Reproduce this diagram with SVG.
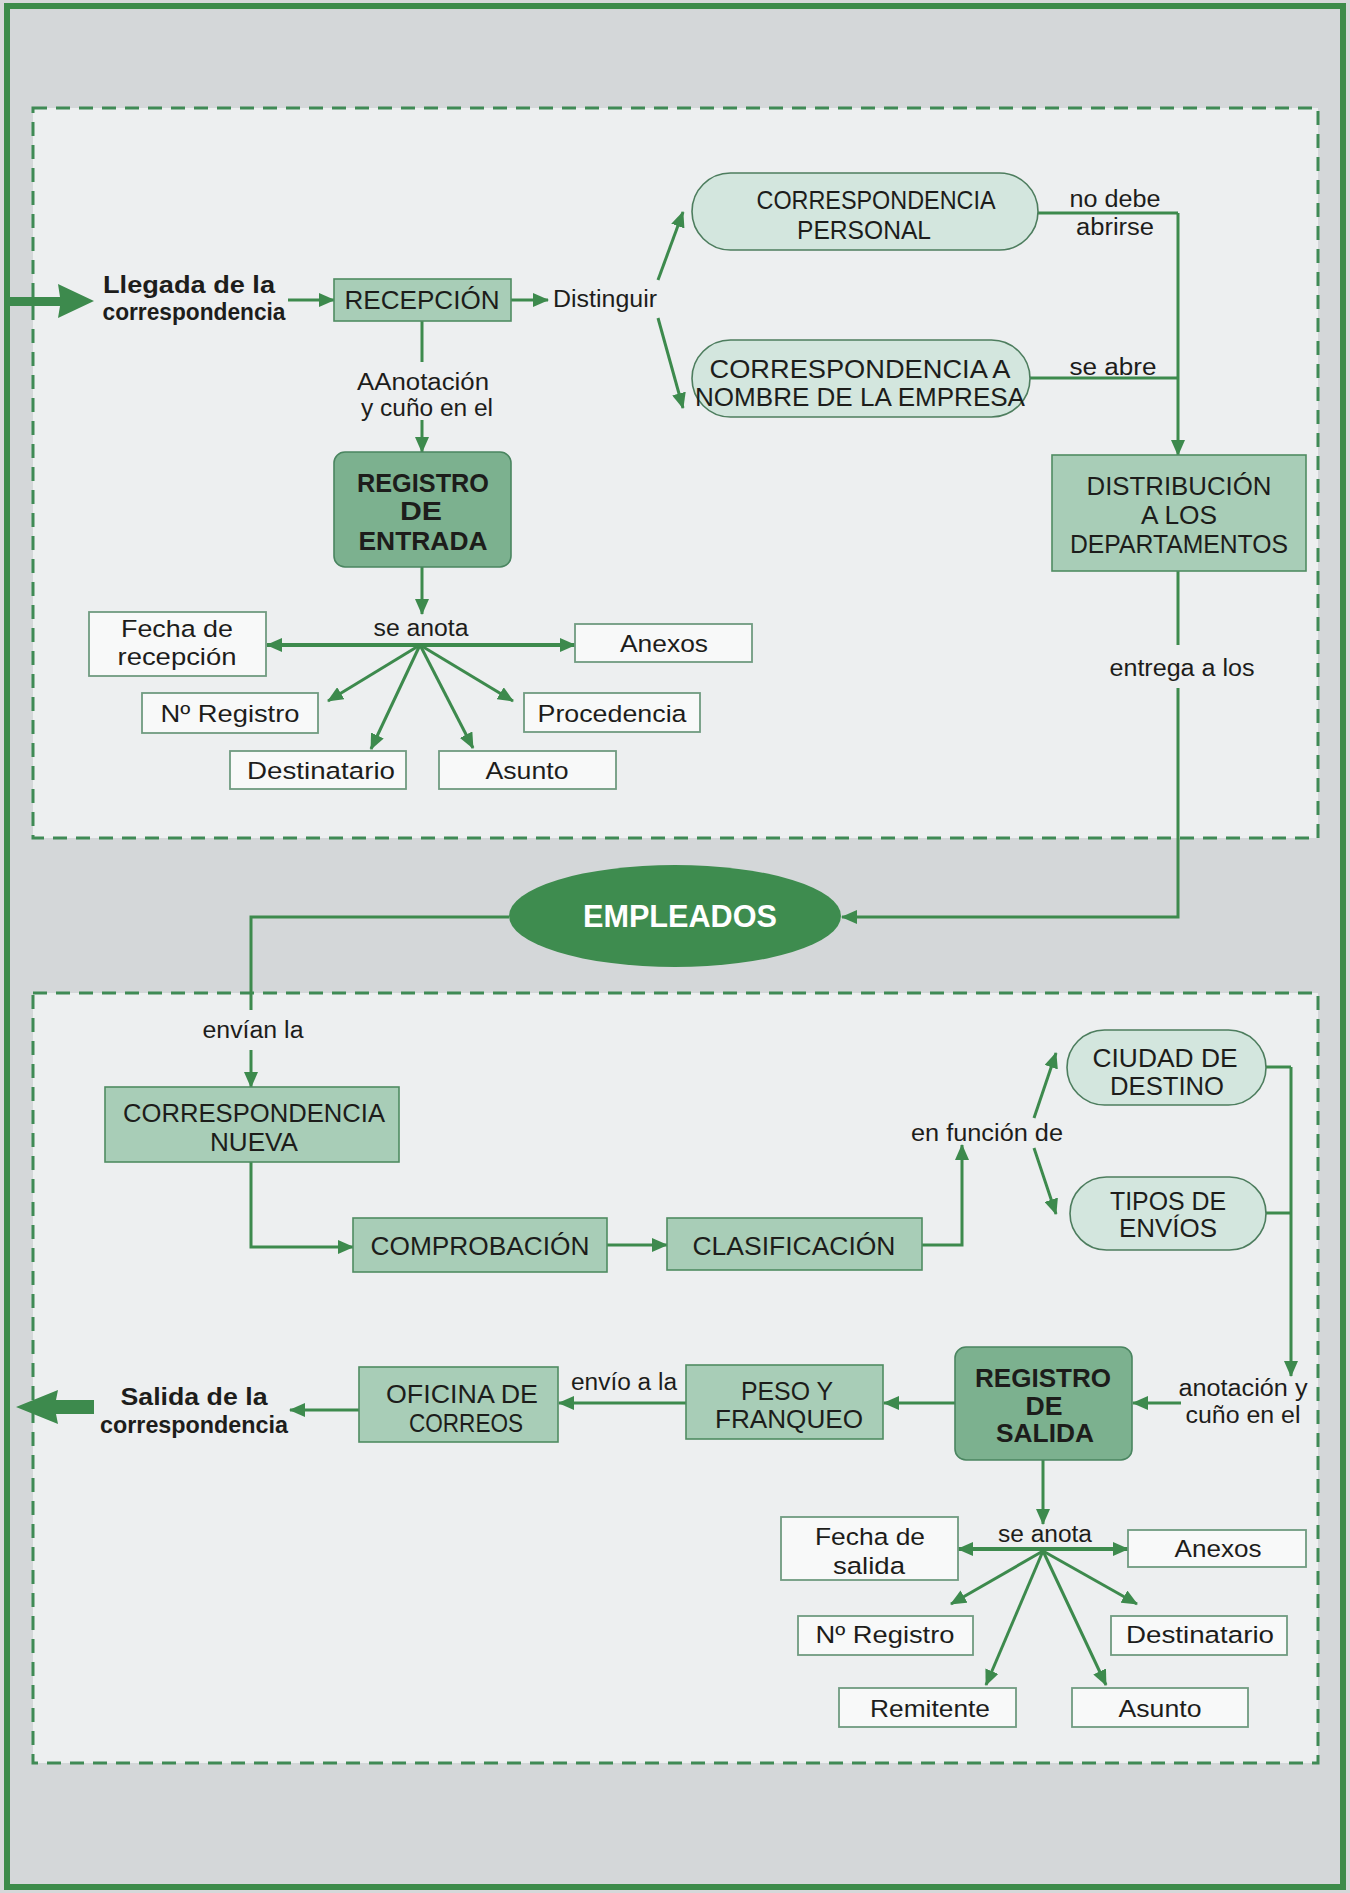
<svg xmlns="http://www.w3.org/2000/svg" width="1350" height="1893" viewBox="0 0 1350 1893">
  <style>
    text { font-family: "Liberation Sans", Arial, sans-serif; fill: #1d1d1b; text-anchor: middle; }
    .lbl { font-size: 23.5px; }
    .box { font-size: 26px; }
    .item { font-size: 24.5px; }
    .bold { font-weight: bold; }
    .big { font-size: 31px; font-weight: bold; fill: #ffffff; }
    .conn { fill: none; stroke: #3d8a4d; stroke-width: 3; }
    .thick { stroke-width: 4; }
    .r-light { fill: #a8cdb7; stroke: #4f8c62; stroke-width: 1.6; }
    .r-dark { fill: #7cb18f; stroke: #4a8560; stroke-width: 1.6; }
    .r-pill { fill: #d3e6de; stroke: #4d7d5e; stroke-width: 1.6; }
    .r-white { fill: #f8f9f9; stroke: #6f9b80; stroke-width: 1.8; }
    .dash { fill: #edeff0; stroke: #3f8a55; stroke-width: 3; stroke-dasharray: 14 9; }
  </style>
  <defs>
    <marker id="arr" viewBox="0 0 16 14" refX="15" refY="7" markerWidth="16" markerHeight="14" markerUnits="userSpaceOnUse" orient="auto-start-reverse">
      <path d="M0,0 L16,7 L0,14 Z" fill="#3d8a4d"/>
    </marker>
  </defs>

  <!-- page background and frame -->
  <rect x="0" y="0" width="1350" height="1893" fill="#d6d8da"/>
  <rect x="7" y="6" width="1336" height="1881" fill="#d4d7d9" stroke="#3c8b4a" stroke-width="6"/>

  <!-- dashed panels -->
  <rect class="dash" x="33" y="108" width="1285" height="730"/>
  <rect class="dash" x="33" y="993" width="1285" height="770"/>

  <!-- connectors -->
  <g id="connectors">
    <!-- incoming big arrow -->
    <polygon points="7,297 60,297 58,284 94,301 58,318 60,306 7,306" fill="#3d8a4d"/>
    <line class="conn" x1="288" y1="300" x2="334" y2="300" marker-end="url(#arr)"/>
    <line class="conn" x1="511" y1="300" x2="548" y2="300" marker-end="url(#arr)"/>
    <line class="conn" x1="658" y1="280" x2="683" y2="212" marker-end="url(#arr)"/>
    <line class="conn" x1="658" y1="318" x2="683" y2="408" marker-end="url(#arr)"/>
    <polyline class="conn" points="1038,213 1178,213"/>
    <polyline class="conn" points="1030,378 1178,378"/>
    <line class="conn" x1="1178" y1="213" x2="1178" y2="455" marker-end="url(#arr)"/>
    <line class="conn" x1="1178" y1="571" x2="1178" y2="645"/>
    <polyline class="conn" points="1178,688 1178,917 842,917" marker-end="url(#arr)"/>

    <!-- entrada chain -->
    <line class="conn" x1="422" y1="321" x2="422" y2="362"/>
    <line class="conn" x1="422" y1="420" x2="422" y2="452" marker-end="url(#arr)"/>
    <line class="conn" x1="422" y1="567" x2="422" y2="614" marker-end="url(#arr)"/>
    <line class="conn thick" x1="420" y1="645" x2="267" y2="645" marker-end="url(#arr)"/>
    <line class="conn thick" x1="420" y1="645" x2="575" y2="645" marker-end="url(#arr)"/>
    <line class="conn" x1="420" y1="645" x2="328" y2="701" marker-end="url(#arr)"/>
    <line class="conn" x1="420" y1="645" x2="371" y2="749" marker-end="url(#arr)"/>
    <line class="conn" x1="420" y1="645" x2="473" y2="748" marker-end="url(#arr)"/>
    <line class="conn" x1="420" y1="645" x2="513" y2="701" marker-end="url(#arr)"/>

    <!-- salida chain -->
    <polyline class="conn" points="509,917 251,917 251,1010"/>
    <line class="conn" x1="251" y1="1050" x2="251" y2="1087" marker-end="url(#arr)"/>
    <polyline class="conn" points="251,1162 251,1247 353,1247" marker-end="url(#arr)"/>
    <line class="conn" x1="607" y1="1245" x2="667" y2="1245" marker-end="url(#arr)"/>
    <polyline class="conn" points="922,1245 962,1245 962,1145" marker-end="url(#arr)"/>
    <line class="conn" x1="1034" y1="1118" x2="1056" y2="1053" marker-end="url(#arr)"/>
    <line class="conn" x1="1034" y1="1148" x2="1056" y2="1214" marker-end="url(#arr)"/>
    <polyline class="conn" points="1266,1067 1291,1067"/>
    <polyline class="conn" points="1266,1213 1291,1213"/>
    <line class="conn" x1="1291" y1="1067" x2="1291" y2="1376" marker-end="url(#arr)"/>
    <line class="conn" x1="1181" y1="1403" x2="1133" y2="1403" marker-end="url(#arr)"/>
    <line class="conn" x1="955" y1="1403" x2="884" y2="1403" marker-end="url(#arr)"/>
    <line class="conn" x1="686" y1="1403" x2="559" y2="1403" marker-end="url(#arr)"/>
    <line class="conn" x1="359" y1="1410" x2="290" y2="1410" marker-end="url(#arr)"/>
    <!-- outgoing big arrow -->
    <polygon points="94,1400 56,1400 58,1390 16,1407 58,1424 56,1414 94,1414" fill="#3d8a4d"/>
    <line class="conn" x1="1043" y1="1460" x2="1043" y2="1524" marker-end="url(#arr)"/>
    <line class="conn thick" x1="1043" y1="1549" x2="958" y2="1549" marker-end="url(#arr)"/>
    <line class="conn thick" x1="1043" y1="1549" x2="1128" y2="1549" marker-end="url(#arr)"/>
    <line class="conn" x1="1043" y1="1551" x2="951" y2="1604" marker-end="url(#arr)"/>
    <line class="conn" x1="1043" y1="1551" x2="986" y2="1685" marker-end="url(#arr)"/>
    <line class="conn" x1="1043" y1="1551" x2="1106" y2="1685" marker-end="url(#arr)"/>
    <line class="conn" x1="1043" y1="1551" x2="1137" y2="1604" marker-end="url(#arr)"/>
  </g>

  <!-- edge labels -->
  <g id="labels">
    <text class="lbl bold" x="189" y="293" textLength="172" lengthAdjust="spacingAndGlyphs">Llegada de la</text>
    <text class="lbl bold" x="194" y="320" textLength="183" lengthAdjust="spacingAndGlyphs">correspondencia</text>
    <text class="lbl" x="605" y="307" textLength="104" lengthAdjust="spacingAndGlyphs">Distinguir</text>
    <text class="lbl" x="423" y="390" textLength="132" lengthAdjust="spacingAndGlyphs">AAnotación</text>
    <text class="lbl" x="427" y="416" textLength="132" lengthAdjust="spacingAndGlyphs">y cuño en el</text>
    <text class="lbl" x="1115" y="207" textLength="91" lengthAdjust="spacingAndGlyphs">no debe</text>
    <text class="lbl" x="1115" y="235" textLength="78" lengthAdjust="spacingAndGlyphs">abrirse</text>
    <text class="lbl" x="1113" y="375" textLength="87" lengthAdjust="spacingAndGlyphs">se abre</text>
    <text class="lbl" x="1182" y="676" textLength="145" lengthAdjust="spacingAndGlyphs">entrega a los</text>
    <text class="lbl" x="421" y="636" textLength="95" lengthAdjust="spacingAndGlyphs">se anota</text>
    <text class="lbl" x="253" y="1038" textLength="101" lengthAdjust="spacingAndGlyphs">envían la</text>
    <text class="lbl" x="987" y="1141" textLength="152" lengthAdjust="spacingAndGlyphs">en función de</text>
    <text class="lbl" x="1243" y="1396" textLength="129" lengthAdjust="spacingAndGlyphs">anotación y</text>
    <text class="lbl" x="1243" y="1423" textLength="115" lengthAdjust="spacingAndGlyphs">cuño en el</text>
    <text class="lbl" x="624" y="1390" textLength="106" lengthAdjust="spacingAndGlyphs">envío a la</text>
    <text class="lbl bold" x="194" y="1405" textLength="147" lengthAdjust="spacingAndGlyphs">Salida de la</text>
    <text class="lbl bold" x="194" y="1433" textLength="188" lengthAdjust="spacingAndGlyphs">correspondencia</text>
    <text class="lbl" x="1045" y="1542" textLength="94" lengthAdjust="spacingAndGlyphs">se anota</text>
  </g>

  <!-- nodes -->
  <g id="n-recepcion">
    <rect class="r-light" x="334" y="279" width="177" height="42"/>
    <text class="box" x="422" y="309" textLength="155" lengthAdjust="spacingAndGlyphs">RECEPCIÓN</text>
  </g>
  <g id="n-personal">
    <rect class="r-pill" x="692" y="173" width="346" height="77" rx="38.5"/>
    <text class="box" x="876" y="209" textLength="239" lengthAdjust="spacingAndGlyphs">CORRESPONDENCIA</text>
    <text class="box" x="864" y="239" textLength="134" lengthAdjust="spacingAndGlyphs">PERSONAL</text>
  </g>
  <g id="n-empresa">
    <rect class="r-pill" x="692" y="340" width="338" height="77" rx="38.5"/>
    <text class="box" x="860" y="378" textLength="301" lengthAdjust="spacingAndGlyphs">CORRESPONDENCIA A</text>
    <text class="box" x="860" y="406" textLength="330" lengthAdjust="spacingAndGlyphs">NOMBRE DE LA EMPRESA</text>
  </g>
  <g id="n-distribucion">
    <rect class="r-light" x="1052" y="455" width="254" height="116"/>
    <text class="box" x="1179" y="495" textLength="185" lengthAdjust="spacingAndGlyphs">DISTRIBUCIÓN</text>
    <text class="box" x="1179" y="524" textLength="76" lengthAdjust="spacingAndGlyphs">A LOS</text>
    <text class="box" x="1179" y="553" textLength="218" lengthAdjust="spacingAndGlyphs">DEPARTAMENTOS</text>
  </g>
  <g id="n-registro-entrada">
    <rect class="r-dark" x="334" y="452" width="177" height="115" rx="11"/>
    <text class="box bold" x="423" y="492" textLength="132" lengthAdjust="spacingAndGlyphs">REGISTRO</text>
    <text class="box bold" x="421" y="520" textLength="42" lengthAdjust="spacingAndGlyphs">DE</text>
    <text class="box bold" x="423" y="550" textLength="129" lengthAdjust="spacingAndGlyphs">ENTRADA</text>
  </g>
  <g id="n-fecha-recepcion">
    <rect class="r-white" x="89" y="612" width="177" height="64"/>
    <text class="item" x="177" y="637" textLength="112" lengthAdjust="spacingAndGlyphs">Fecha de</text>
    <text class="item" x="177" y="665" textLength="119" lengthAdjust="spacingAndGlyphs">recepción</text>
  </g>
  <g id="n-anexos-entrada">
    <rect class="r-white" x="575" y="624" width="177" height="38"/>
    <text class="item" x="664" y="652" textLength="88" lengthAdjust="spacingAndGlyphs">Anexos</text>
  </g>
  <g id="n-registro-entrada-num">
    <rect class="r-white" x="142" y="693" width="176" height="40"/>
    <text class="item" x="230" y="722" textLength="139" lengthAdjust="spacingAndGlyphs">Nº Registro</text>
  </g>
  <g id="n-procedencia">
    <rect class="r-white" x="524" y="693" width="176" height="39"/>
    <text class="item" x="612" y="722" textLength="149" lengthAdjust="spacingAndGlyphs">Procedencia</text>
  </g>
  <g id="n-destinatario-entrada">
    <rect class="r-white" x="230" y="751" width="176" height="38"/>
    <text class="item" x="321" y="779" textLength="148" lengthAdjust="spacingAndGlyphs">Destinatario</text>
  </g>
  <g id="n-asunto-entrada">
    <rect class="r-white" x="439" y="751" width="177" height="38"/>
    <text class="item" x="527" y="779" textLength="83" lengthAdjust="spacingAndGlyphs">Asunto</text>
  </g>
  <g id="n-empleados">
    <ellipse cx="675" cy="916" rx="166" ry="51" fill="#3e8c4f"/>
    <text class="big" x="680" y="927" textLength="194" lengthAdjust="spacingAndGlyphs">EMPLEADOS</text>
  </g>
  <g id="n-nueva">
    <rect class="r-light" x="105" y="1087" width="294" height="75"/>
    <text class="box" x="254" y="1122" textLength="262" lengthAdjust="spacingAndGlyphs">CORRESPONDENCIA</text>
    <text class="box" x="254" y="1151" textLength="88" lengthAdjust="spacingAndGlyphs">NUEVA</text>
  </g>
  <g id="n-comprobacion">
    <rect class="r-light" x="353" y="1218" width="254" height="54"/>
    <text class="box" x="480" y="1255" textLength="219" lengthAdjust="spacingAndGlyphs">COMPROBACIÓN</text>
  </g>
  <g id="n-clasificacion">
    <rect class="r-light" x="667" y="1218" width="255" height="52"/>
    <text class="box" x="794" y="1255" textLength="203" lengthAdjust="spacingAndGlyphs">CLASIFICACIÓN</text>
  </g>
  <g id="n-ciudad">
    <rect class="r-pill" x="1067" y="1030" width="199" height="75" rx="37.5"/>
    <text class="box" x="1165" y="1067" textLength="145" lengthAdjust="spacingAndGlyphs">CIUDAD DE</text>
    <text class="box" x="1167" y="1095" textLength="114" lengthAdjust="spacingAndGlyphs">DESTINO</text>
  </g>
  <g id="n-tipos">
    <rect class="r-pill" x="1070" y="1177" width="196" height="73" rx="36.5"/>
    <text class="box" x="1168" y="1210" textLength="116" lengthAdjust="spacingAndGlyphs">TIPOS DE</text>
    <text class="box" x="1168" y="1237" textLength="98" lengthAdjust="spacingAndGlyphs">ENVÍOS</text>
  </g>
  <g id="n-registro-salida">
    <rect class="r-dark" x="955" y="1347" width="177" height="113" rx="11"/>
    <text class="box bold" x="1043" y="1387" textLength="136" lengthAdjust="spacingAndGlyphs">REGISTRO</text>
    <text class="box bold" x="1044" y="1415" textLength="37" lengthAdjust="spacingAndGlyphs">DE</text>
    <text class="box bold" x="1045" y="1442" textLength="98" lengthAdjust="spacingAndGlyphs">SALIDA</text>
  </g>
  <g id="n-peso">
    <rect class="r-light" x="686" y="1365" width="197" height="74"/>
    <text class="box" x="787" y="1400" textLength="92" lengthAdjust="spacingAndGlyphs">PESO Y</text>
    <text class="box" x="789" y="1428" textLength="148" lengthAdjust="spacingAndGlyphs">FRANQUEO</text>
  </g>
  <g id="n-oficina">
    <rect class="r-light" x="359" y="1367" width="199" height="75"/>
    <text class="box" x="462" y="1403" textLength="152" lengthAdjust="spacingAndGlyphs">OFICINA DE</text>
    <text class="box" x="466" y="1432" textLength="114" lengthAdjust="spacingAndGlyphs">CORREOS</text>
  </g>
  <g id="n-fecha-salida">
    <rect class="r-white" x="781" y="1517" width="177" height="63"/>
    <text class="item" x="870" y="1545" textLength="110" lengthAdjust="spacingAndGlyphs">Fecha de</text>
    <text class="item" x="869" y="1574" textLength="72" lengthAdjust="spacingAndGlyphs">salida</text>
  </g>
  <g id="n-anexos-salida">
    <rect class="r-white" x="1128" y="1530" width="178" height="37"/>
    <text class="item" x="1218" y="1557" textLength="87" lengthAdjust="spacingAndGlyphs">Anexos</text>
  </g>
  <g id="n-registro-salida-num">
    <rect class="r-white" x="798" y="1616" width="175" height="39"/>
    <text class="item" x="885" y="1643" textLength="139" lengthAdjust="spacingAndGlyphs">Nº Registro</text>
  </g>
  <g id="n-destinatario-salida">
    <rect class="r-white" x="1111" y="1616" width="176" height="39"/>
    <text class="item" x="1200" y="1643" textLength="148" lengthAdjust="spacingAndGlyphs">Destinatario</text>
  </g>
  <g id="n-remitente">
    <rect class="r-white" x="839" y="1688" width="177" height="39"/>
    <text class="item" x="930" y="1717" textLength="120" lengthAdjust="spacingAndGlyphs">Remitente</text>
  </g>
  <g id="n-asunto-salida">
    <rect class="r-white" x="1072" y="1688" width="176" height="39"/>
    <text class="item" x="1160" y="1717" textLength="83" lengthAdjust="spacingAndGlyphs">Asunto</text>
  </g>
</svg>
